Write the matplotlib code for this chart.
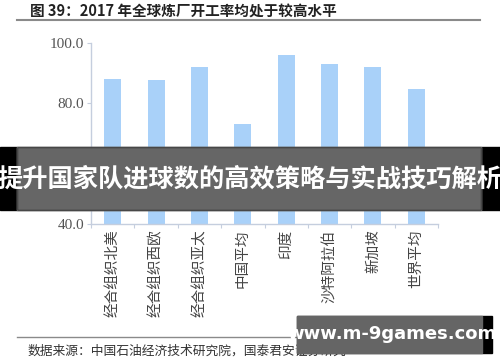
import matplotlib.pyplot as plt
from matplotlib.patches import Rectangle
from matplotlib.lines import Line2D

plt.rcParams['font.family'] = ['Noto Sans CJK SC', 'DejaVu Sans']

regions = ["经合组织北美", "经合组织西欧", "经合组织亚太", "中国平均",
           "印度", "沙特阿拉伯", "新加坡", "世界平均"]
rates = [88.1, 87.8, 92.0, 73.1, 95.9, 92.8, 91.8, 84.7]
yticks = [40.0, 60.0, 80.0, 100.0]

title = "图 39：2017 年全球炼厂开工率均处于较高水平"
source = "数据来源：中国石油经济技术研究院，国泰君安证券研究"
banner = "提升国家队进球数的高效策略与实战技巧解析"
watermark = "www.m-9games.com"

W, H = 500, 362
fig = plt.figure(figsize=(5, 3.62), dpi=100)


def fx(px):
    return px / W


def fy(py):
    return 1 - py / H


ax = fig.add_axes([fx(91), fy(224), fx(438 - 91), (224 - 42.7) / H])
x = range(len(regions))
ax.bar(x, rates, width=0.39, color="#a9d1f9", bottom=0)
ax.set_ylim(40, 100)
ax.set_xlim(-0.5, len(regions) - 0.5)
ax.set_yticks(yticks)
ax.set_yticklabels(["%.1f" % v for v in yticks], family="Liberation Serif",
                   fontsize=11, color="#555555")
for s in ["top", "right"]:
    ax.spines[s].set_visible(False)
for s in ["left", "bottom"]:
    ax.spines[s].set_color("#c5cede")
    ax.spines[s].set_linewidth(1.0)
ax.tick_params(axis="y", length=3, color="#c5cede", pad=2)
ax.set_xticks([i - 0.5 for i in range(len(regions) + 1)])
ax.set_xticklabels([])
ax.tick_params(axis="x", length=3, color="#c5cede", direction="out")
for i, r in enumerate(regions):
    ax.annotate(r, xy=(i, 40), xytext=(0, -4), textcoords="offset points",
                rotation=90, ha="center", va="top", fontsize=10.5,
                color="#444444")

# title and rules
fig.text(fx(30), fy(12), title, fontsize=10.5, fontweight="bold",
         color="#222222", va="center", ha="left")
fig.add_artist(Line2D([fx(17), fx(480)], [fy(20), fy(20)], color="#8a8a8a", lw=1.5))
fig.add_artist(Line2D([fx(17), fx(297)], [fy(337), fy(337)], color="#8a8a8a", lw=1.0))
fig.text(fx(28), fy(351), source, fontsize=9.2, color="#333333", va="center", ha="left")

# overlay banner
fig.add_artist(Rectangle((0, fy(210)), 1, (210 - 147) / H, transform=fig.transFigure,
                         color="black", zorder=10))
fig.add_artist(Rectangle((fx(17), fy(210)), fx(481 - 17), (210 - 147) / H,
                         transform=fig.transFigure, color="white", zorder=10))
fig.add_artist(Rectangle((fx(17), fy(210)), fx(481 - 17), (210 - 147) / H,
                         transform=fig.transFigure, color="black", alpha=0.6, zorder=11))
fig.text(0.5, fy(179), banner, fontsize=18.2, fontweight="bold", color="white",
         ha="center", va="center", zorder=12)

# watermark box
fig.add_artist(Rectangle((fx(297), fy(353)), fx(492 - 297), (353 - 316) / H,
                         transform=fig.transFigure, color="black", zorder=10))
fig.add_artist(Rectangle((fx(297), fy(353)), fx(482 - 297), (353 - 316) / H,
                         transform=fig.transFigure, color="#656565", zorder=11))
fig.text(fx(392), fy(334), watermark, fontsize=13, fontweight="bold", color="white",
         ha="center", va="center", family="DejaVu Sans", zorder=12)

fig.savefig("out.png", dpi=100)
